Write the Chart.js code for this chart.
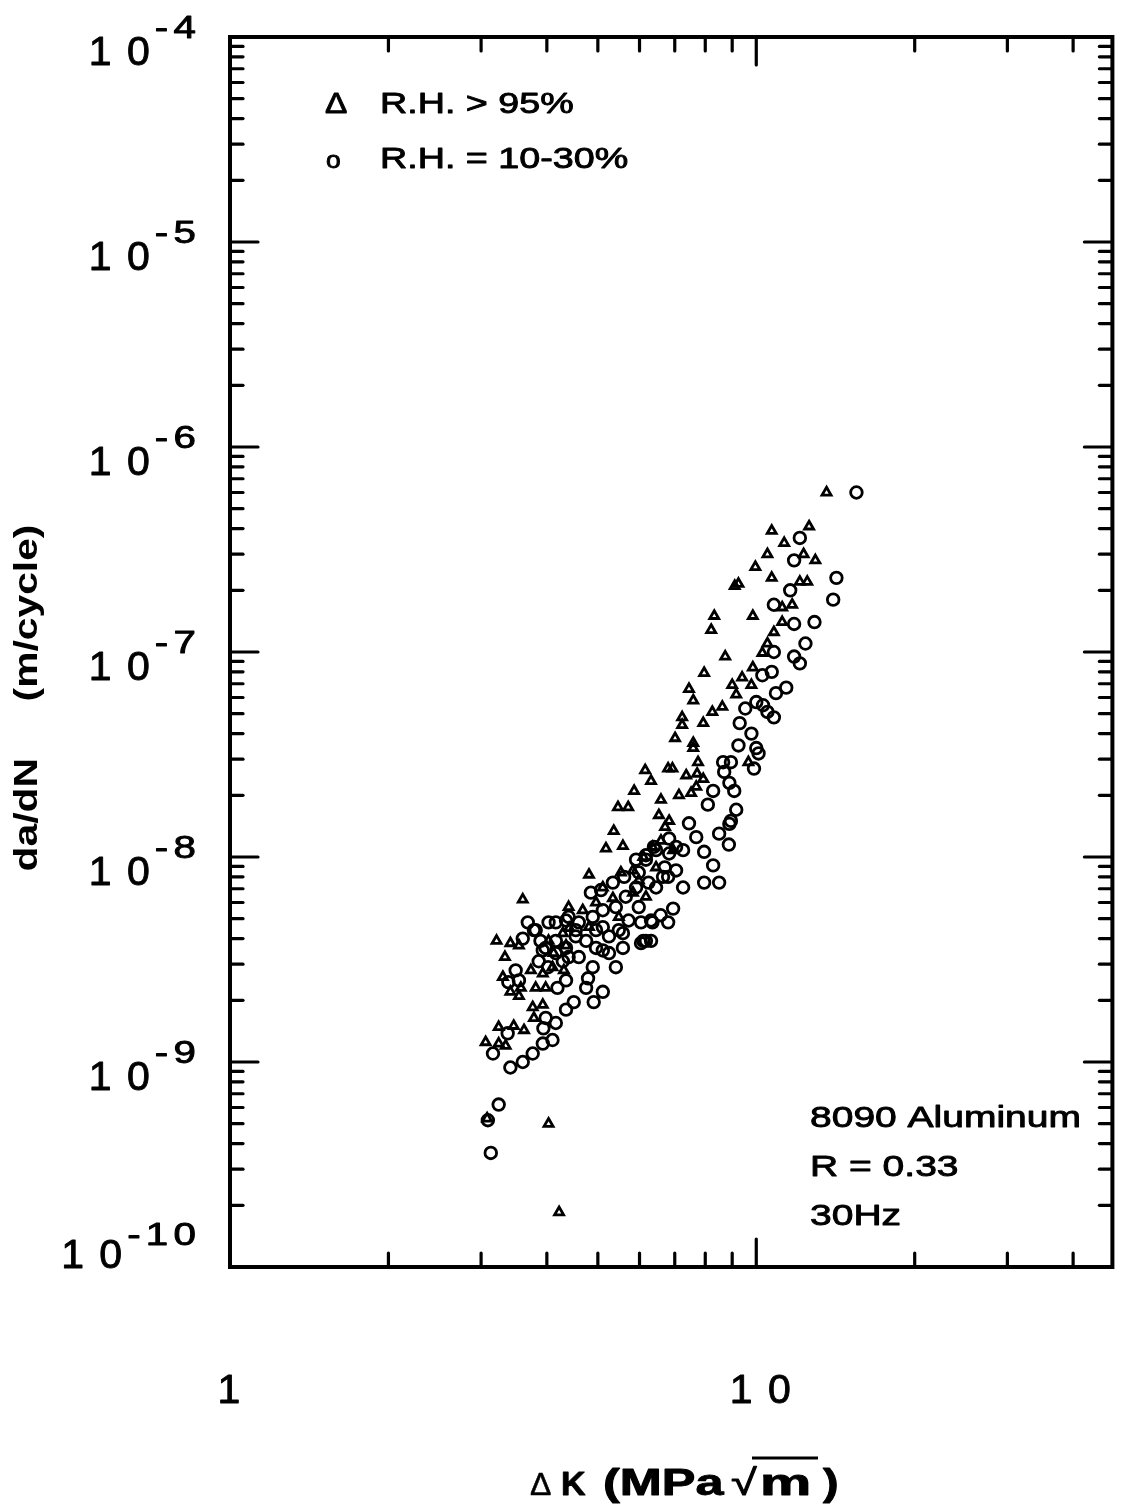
<!DOCTYPE html>
<html>
<head>
<meta charset="utf-8">
<script src="https://cdn.jsdelivr.net/npm/chart.js@4.4.1/dist/chart.umd.min.js"></script>
<style>
  html, body { margin: 0; padding: 0; background: #fff; }
  canvas { display: block; }
</style>
</head>
<body>
<canvas id="grafico" width="1121" height="1507"></canvas>
<script>
// R.H. > 95% (triangles)
const triK = [13.6, 10.7, 12.6, 11.3, 10.5, 12.95, 12.3, 9.96, 10.7, 9.1, 9.25, 12.1, 12.5, 11.7, 11.2,
  9.85, 8.32, 8.21, 11.2, 10.8, 10.5, 10.27, 8.73, 7.96, 9.85, 9.40, 9.79, 9.0, 9.16, 7.45,
  7.59, 8.62, 8.25, 7.23, 7.23, 7.93, 7.01, 7.59, 7.59, 7.75, 6.15, 6.80, 6.93, 6.31, 7.36,
  7.72, 7.13, 6.59, 6.53, 6.83, 6.71, 7.52, 7.69, 7.93, 5.86, 5.46, 5.71, 5.36, 5.18, 5.58,
  4.81, 9.66, 3.60, 3.21, 3.41, 3.54, 3.33, 3.30, 3.73, 3.41, 3.57, 3.54, 3.81, 3.98, 3.76,
  3.93, 3.78, 3.24, 3.46, 3.62, 3.06, 3.24, 3.34, 3.93, 4.10, 4.31, 4.12, 4.35, 4.41, 5.53,
  5.83, 4.03, 4.22, 3.08, 5.34, 5.11, 5.98, 4.96, 4.68, 4.40, 5.83, 6.45, 6.17, 5.48, 4.81,
  4.29, 4.03, 6.35, 6.95, 6.10, 6.59];
const triRate = [6.0e-7, 3.9e-7, 4.1e-7, 3.4e-7, 3.0e-7, 2.8e-7, 3.0e-7, 2.6e-7, 2.3e-7, 2.1e-7, 2.15e-7, 2.2e-7, 2.2e-7, 1.7e-7, 1.65e-7,
  1.5e-7, 1.5e-7, 1.28e-7, 1.4e-7, 1.25e-7, 1.1e-7, 9.9e-8, 9.5e-8, 7.9e-8, 8.4e-8, 7.5e-8, 6.9e-8, 6.9e-8, 6.2e-8, 6.6e-8,
  5.8e-8, 5.4e-8, 5.1e-8, 4.8e-8, 4.4e-8, 4.5e-8, 3.8e-8, 3.6e-8, 3.4e-8, 2.9e-8, 2.65e-8, 2.7e-8, 2.7e-8, 2.35e-8, 2.5e-8,
  2.55e-8, 2.0e-8, 1.9e-8, 1.6e-8, 1.5e-8, 1.4e-8, 2.05e-8, 2.2e-8, 2.4e-8, 2.1e-8, 1.75e-8, 1.75e-8, 1.34e-8, 1.1e-8, 1.13e-8,
  8.2e-9, 2.9e-8, 6.2e-9, 3.9e-9, 3.8e-9, 3.7e-9, 3.25e-9, 2.6e-9, 2.8e-9, 2.2e-9, 2.3e-9, 2.1e-9, 2.3e-9, 2.3e-9, 1.85e-9,
  1.9e-9, 1.64e-9, 1.48e-9, 1.5e-9, 1.43e-9, 1.25e-9, 1.23e-9, 1.2e-9, 2.7e-9, 2.9e-9, 2.8e-9, 3.4e-9, 3.7e-9, 4.5e-9, 8.4e-9,
  8.6e-9, 5.0e-10, 1.85e-10, 5.3e-10, 6.3e-9, 7.1e-9, 7.7e-9, 6.0e-9, 5.5e-9, 5.7e-9, 6.7e-9, 8.9e-9, 6.4e-9, 5.1e-9, 4.55e-9,
  4.25e-9, 3.9e-9, 1.12e-8, 1.08e-8, 1.0e-8, 1.2e-8];

// R.H. = 10-30% (circles)
const circK = [15.5, 12.1, 11.8, 14.2, 11.6, 14.0, 10.8, 12.9, 11.8, 12.4, 10.8, 11.8, 12.1, 10.7, 10.27,
  11.4, 10.9, 10.0, 9.53, 10.3, 10.5, 10.8, 9.3, 9.79, 9.25, 10.0, 10.1, 8.65, 8.95, 9.9,
  8.69, 8.89, 9.08, 8.28, 8.09, 9.16, 8.95, 8.5, 8.87, 7.96, 8.28, 7.96, 8.5, 7.26, 7.45,
  7.69, 6.83, 7.04, 6.45, 6.7, 6.17, 5.98, 6.8, 6.45, 6.95, 6.58, 6.80, 6.04, 6.31, 6.17,
  6.31, 4.85, 3.68, 3.78, 4.03, 3.60, 3.89, 3.49, 3.54, 3.38, 4.19, 4.35, 4.79, 5.41, 4.75,
  5.11, 4.91, 4.50, 4.35, 4.16, 3.98, 3.94, 3.37, 3.16, 3.41, 3.60, 3.76, 3.93, 4.10, 3.24,
  3.09, 3.13, 4.35, 4.54, 5.11, 5.58, 4.96, 5.25, 4.60, 4.29, 4.89, 4.02, 3.81, 3.93, 6.04,
  5.07, 5.34, 5.61, 5.91, 6.17, 6.39, 6.83, 7.26, 7.04, 6.65, 6.24, 5.91, 5.65, 5.41, 5.11,
  4.89, 4.60, 4.40, 4.16, 5.98, 5.72, 5.48, 5.25, 4.96, 4.75, 4.54, 4.35, 4.16, 3.98, 5.11,
  5.58, 6.35, 6.10, 4.40, 4.16, 3.86, 8.89];
const circRate = [6.0e-7, 3.6e-7, 2.8e-7, 2.3e-7, 2.0e-7, 1.8e-7, 1.7e-7, 1.4e-7, 1.37e-7, 1.1e-7, 1.0e-7, 9.5e-8, 8.8e-8, 8.0e-8, 7.7e-8,
  6.7e-8, 6.3e-8, 5.7e-8, 5.3e-8, 5.5e-8, 5.1e-8, 4.8e-8, 4.5e-8, 4.0e-8, 3.5e-8, 3.4e-8, 3.2e-8, 2.9e-8, 2.9e-8, 2.7e-8,
  2.6e-8, 2.3e-8, 2.1e-8, 2.1e-8, 1.8e-8, 1.7e-8, 1.5e-8, 1.3e-8, 1.15e-8, 1.06e-8, 9.1e-9, 7.5e-9, 7.5e-9, 7.1e-9, 1.46e-8,
  1.25e-8, 1.23e-8, 1.12e-8, 1.08e-8, 8.9e-9, 9.7e-9, 8.4e-9, 8.0e-9, 7.1e-9, 5.6e-9, 5.2e-9, 4.8e-9, 4.8e-9, 4.9e-9, 3.9e-9,
  3.9e-9, 6.7e-9, 4.8e-9, 4.4e-9, 4.8e-9, 4.0e-9, 3.9e-9, 2.8e-9, 2.5e-9, 2.45e-9, 2.3e-9, 2.5e-9, 2.56e-9, 2.9e-9, 2.3e-9,
  2.2e-9, 1.96e-9, 1.96e-9, 1.8e-9, 1.55e-9, 1.64e-9, 1.46e-9, 1.38e-9, 1.1e-9, 9.4e-10, 1.0e-9, 1.1e-9, 1.23e-9, 1.28e-9, 6.2e-10,
  5.2e-10, 3.6e-10, 4.9e-9, 4.4e-9, 4.55e-9, 4.25e-9, 3.6e-9, 3.4e-9, 3.25e-9, 3.1e-9, 2.9e-9, 2.9e-9, 4.4e-9, 3.5e-9, 3.8e-9,
  6.9e-9, 7.5e-9, 8.0e-9, 9.7e-9, 1.02e-8, 1.12e-8, 1.04e-8, 1.08e-8, 8.6e-9, 8.0e-9, 7.5e-9, 7.1e-9, 6.4e-9, 5.7e-9, 5.5e-9,
  5.1e-9, 4.8e-9, 5.1e-9, 4.8e-9, 5.7e-9, 4.9e-9, 4.4e-9, 4.1e-9, 4.4e-9, 3.9e-9, 4.1e-9, 3.6e-9, 3.9e-9, 3.6e-9, 3.5e-9,
  3.6e-9, 4.8e-9, 3.9e-9, 3.25e-9, 3.4e-9, 3.1e-9, 1.45e-8];

// eixos
const xMinorTicks = [2, 3, 4, 5, 6, 7, 8, 9, 20, 30, 40];
const xMajorTicks = [10];
const xLabelVals = [1, 10];
const xLabelText = ['1', '1 0'];
const yExponents = [-10, -9, -8, -7, -6, -5, -4];

const FONT = '"Liberation Sans", Arial, Helvetica, sans-serif';

// texto com um contorno fino para ficar "pesado" como no original escaneado
function texto(ctx, str, x, y, font, align, sx, peso) {
  ctx.save();
  ctx.font = font;
  ctx.textAlign = align || 'left';
  ctx.textBaseline = 'alphabetic';
  ctx.translate(x, y);
  ctx.scale(sx || 1, 1);
  ctx.fillText(str, 0, 0);
  ctx.lineWidth = peso === undefined ? 0.9 : peso;
  ctx.lineJoin = 'round';
  if (ctx.lineWidth > 0) ctx.strokeText(str, 0, 0);
  ctx.restore();
}

function linha(ctx, x1, y1, x2, y2) {
  ctx.beginPath();
  ctx.moveTo(x1, y1);
  ctx.lineTo(x2, y2);
  ctx.stroke();
}

const moldura = {
  id: 'moldura',
  afterDraw(chart) {
    const ctx = chart.ctx;
    const a = chart.chartArea;
    const xs = chart.scales.x;
    const ys = chart.scales.y;
    ctx.save();
    ctx.strokeStyle = '#000';
    ctx.fillStyle = '#000';

    // caixa
    ctx.lineWidth = 4;
    ctx.strokeRect(a.left, a.top, a.right - a.left, a.bottom - a.top);

    // ticks para dentro
    ctx.lineWidth = 3.2;
    ctx.lineCap = 'round';
    xMinorTicks.concat(xMajorTicks).forEach(v => {
      const px = xs.getPixelForValue(v);
      const len = xMajorTicks.includes(v) ? 28 : 14;
      linha(ctx, px, a.bottom, px, a.bottom - len);
      linha(ctx, px, a.top, px, a.top + len);
    });
    yExponents.forEach(e => {
      for (let m = 1; m <= 9; m++) {
        if (e === -4 && m > 1) break;
        const py = ys.getPixelForValue(m * Math.pow(10, e));
        const len = m === 1 ? 28 : 13;
        linha(ctx, a.left, py, a.left + len, py);
        linha(ctx, a.right, py, a.right - len, py);
      }
    });

    // rotulos do eixo y: 10^e
    yExponents.forEach(e => {
      const py = ys.getPixelForValue(Math.pow(10, e));
      const baseY = e === -10 ? py + 1 : py + 28;
      const expY = e === -10 ? py - 22 : py + 1;
      const expStr = String(e);
      ctx.save();
      ctx.font = '31px ' + FONT;
      if ('letterSpacing' in ctx) ctx.letterSpacing = '4px';
      const w = ctx.measureText(expStr).width * 1.3;
      texto(ctx, expStr, 201, expY, '31px ' + FONT, 'right', 1.3);
      ctx.restore();
      ctx.save();
      if ('letterSpacing' in ctx) ctx.letterSpacing = '2px';
      texto(ctx, '1 0', 201 - w - 3, baseY, '41px ' + FONT, 'right', 1);
      ctx.restore();
    });

    // rotulos do eixo x
    xLabelVals.forEach((v, i) => {
      const px = xs.getPixelForValue(v);
      ctx.save();
      if ('letterSpacing' in ctx) ctx.letterSpacing = '2px';
      texto(ctx, xLabelText[i], px + (v === 1 ? 0 : 5), 1403, '41px ' + FONT, 'center', 1);
      ctx.restore();
    });

    // titulo eixo x
    texto(ctx, 'Δ', 530, 1495, '32px ' + FONT, 'left', 1, 0.5);
    texto(ctx, 'K', 561, 1495, 'bold 34px ' + FONT, 'left', 1);
    texto(ctx, '(MPa', 603, 1495, 'bold 36px ' + FONT, 'left', 1.4);
    texto(ctx, '√', 731, 1495, '36px ' + FONT, 'left', 1.3);
    texto(ctx, 'm', 760, 1495, 'bold 36px ' + FONT, 'left', 1.6);
    texto(ctx, ')', 823, 1495, 'bold 36px ' + FONT, 'left', 1.3);
    ctx.lineWidth = 3;
    ctx.lineCap = 'butt';
    linha(ctx, 752, 1458, 818, 1458);

    // titulo eixo y
    ctx.save();
    ctx.translate(28, 698);
    ctx.rotate(-Math.PI / 2);
    ctx.scale(1.2, 1);
    ctx.font = 'bold 34px ' + FONT;
    ctx.textAlign = 'center';
    ctx.textBaseline = 'middle';
    ctx.fillText('da/dN     (m/cycle)', 0, 0);
    ctx.restore();

    // legenda
    texto(ctx, 'Δ', 325, 113, '29px ' + FONT, 'left', 1.15);
    texto(ctx, 'R.H. > 95%', 380, 113, '29px ' + FONT, 'left', 1.3);
    texto(ctx, 'o', 326, 168, '24px ' + FONT, 'left', 1.1);
    texto(ctx, 'R.H. = 10-30%', 380, 168, '29px ' + FONT, 'left', 1.3);

    // anotacao
    texto(ctx, '8090 Aluminum', 810, 1127, '30px ' + FONT, 'left', 1.3);
    texto(ctx, 'R = 0.33', 810, 1176, '30px ' + FONT, 'left', 1.3);
    texto(ctx, '30Hz', 810, 1225, '30px ' + FONT, 'left', 1.3);

    ctx.restore();
  }
};

new Chart(document.getElementById('grafico'), {
  type: 'scatter',
  data: {
    datasets: [
      {
        label: 'R.H. > 95%',
        data: triK.map((k, i) => ({ x: k, y: triRate[i] })),
        pointStyle: 'triangle',
        pointRadius: 5.2,
        pointBorderWidth: 2.8,
        pointBorderColor: '#000',
        pointBackgroundColor: 'rgba(0,0,0,0)'
      },
      {
        label: 'R.H. = 10-30%',
        data: circK.map((k, i) => ({ x: k, y: circRate[i] })),
        pointStyle: 'circle',
        pointRadius: 5.8,
        pointBorderWidth: 2.8,
        pointBorderColor: '#000',
        pointBackgroundColor: 'rgba(0,0,0,0)'
      }
    ]
  },
  options: {
    responsive: false,
    animation: false,
    events: [],
    layout: { padding: { left: 230, top: 37, right: 3, bottom: 240 } },
    plugins: { legend: { display: false }, tooltip: { enabled: false } },
    scales: {
      x: { type: 'logarithmic', min: 1, max: 47.5, display: false },
      y: { type: 'logarithmic', min: 1e-10, max: 1e-4, display: false }
    }
  },
  plugins: [moldura]
});
</script>
</body>
</html>
